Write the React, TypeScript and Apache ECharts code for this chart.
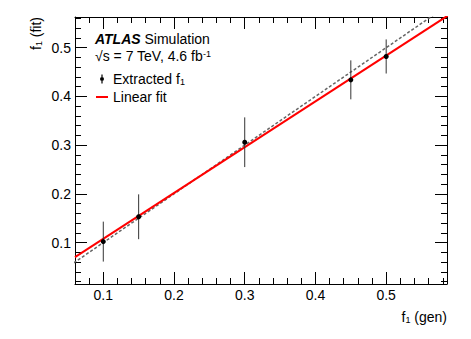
import React, { useEffect, useRef } from 'react';
import * as echarts from 'echarts';

const genValues = [0.1, 0.15, 0.3, 0.45, 0.5];
const fitValues = [0.102, 0.153, 0.306, 0.434, 0.482];
const fitErrors = [0.041, 0.046, 0.051, 0.040, 0.035];
const linearFitX = [0.06, 0.6];
const linearFitY = [0.070, 0.578];
const diagonalXY = [0.0, 0.6];
const xRange = [0.06, 0.586];
const yRange = [0.015, 0.563];
const xMajorTicks = [0.1, 0.2, 0.3, 0.4, 0.5];
const yMajorTicks = [0.1, 0.2, 0.3, 0.4, 0.5];
const minorStep = 0.02;

const FONT = 'Liberation Sans, Arial, Helvetica, sans-serif';

function minorTicks(range: number[], majors: number[]) {
  const out: number[] = [];
  const start = Math.ceil(range[0] / minorStep - 1e-9);
  const end = Math.floor(range[1] / minorStep + 1e-9);
  for (let i = start; i <= end; i++) {
    const v = +(i * minorStep).toFixed(4);
    if (!majors.some((m) => Math.abs(m - v) < 1e-6)) out.push(v);
  }
  return out;
}

function makeAxis(
  position: string,
  range: number[],
  ticks: number[],
  len: number,
  showLine: boolean,
  showLabel: boolean
) {
  return {
    type: 'value',
    position,
    min: range[0],
    max: range[1],
    axisLine: { show: showLine, onZero: false, lineStyle: { color: '#000', width: 1 } },
    axisTick: {
      show: true,
      inside: true,
      length: len,
      customValues: ticks,
      lineStyle: { color: '#000', width: 1 },
    },
    axisLabel: showLabel
      ? {
          show: true,
          customValues: ticks,
          formatter: (v: number) => v.toFixed(1),
          fontSize: 14,
          fontFamily: FONT,
          color: '#000',
          margin: 4,
        }
      : { show: false },
    splitLine: { show: false },
    minorTick: { show: false },
  };
}

export default function App() {
  const ref = useRef<HTMLDivElement>(null);
  useEffect(() => {
    if (!ref.current) return;
    const chart = echarts.init(ref.current, null, { renderer: 'svg' });
    const xMinor = minorTicks(xRange, xMajorTicks);
    const yMinor = minorTicks(yRange, yMajorTicks);

    const rich = {
      n: { fontSize: 14, fontFamily: FONT, color: '#000' },
      s: { fontSize: 9, fontFamily: FONT, color: '#000', verticalAlign: 'bottom' },
      p: { fontSize: 9, fontFamily: FONT, color: '#000', verticalAlign: 'top' },
      b: { fontSize: 14, fontFamily: FONT, color: '#000', fontWeight: 'bold', fontStyle: 'italic' },
    };

    chart.setOption({
      animation: false,
      backgroundColor: '#fff',
      grid: { left: 75, top: 17, right: 24, bottom: 55, containLabel: false, outerBoundsMode: 'none' },
      xAxis: [
        makeAxis('bottom', xRange, xMajorTicks, 12, true, true),
        makeAxis('bottom', xRange, xMinor, 6, false, false),
        makeAxis('top', xRange, xMajorTicks, 12, true, false),
        makeAxis('top', xRange, xMinor, 6, false, false),
      ],
      yAxis: [
        makeAxis('left', yRange, yMajorTicks, 12, true, true),
        makeAxis('left', yRange, yMinor, 6, false, false),
        makeAxis('right', yRange, yMajorTicks, 12, true, false),
        makeAxis('right', yRange, yMinor, 6, false, false),
      ],
      legend: {
        orient: 'vertical',
        left: 96,
        top: 72,
        itemWidth: 12,
        itemHeight: 9,
        itemGap: 4,
        padding: 0,
        textStyle: { fontSize: 14, fontFamily: FONT, color: '#000', rich },
        formatter: (name: string) =>
          name === 'Extracted f1' ? '{n|Extracted f}{s|1}' : '{n|' + name + '}',
        data: [
          {
            name: 'Extracted f1',
            icon:
              'path://M3.4,0h1.2v2.5h-1.2zM3.4,6.5h1.2v2.5h-1.2zM2,4.5a2,2 0 1,0 4,0a2,2 0 1,0 -4,0z',
            itemStyle: { color: '#000', opacity: 1 },
          },
          {
            name: 'Linear fit',
            icon: 'path://M0,0h12v2h-12z',
            itemStyle: { color: '#ff0000' },
          },
        ],
      },
      graphic: [
        {
          type: 'text',
          x: 95,
          y: 39,
          style: {
            text: '{b|ATLAS} {n|Simulation}',
            rich,
            fontSize: 14,
            fontFamily: FONT,
            fill: '#000',
            align: 'left',
            verticalAlign: 'middle',
          },
        },
        {
          type: 'text',
          x: 95,
          y: 56,
          style: {
            text: '{n|√s = 7 TeV, 4.6 fb}{p|-1}',
            rich,
            fontSize: 14,
            fontFamily: FONT,
            fill: '#000',
            align: 'left',
            verticalAlign: 'middle',
          },
        },
        {
          type: 'text',
          x: 447,
          y: 317,
          style: {
            text: '{n|f}{s|1}{n| (gen)}',
            rich,
            fontSize: 14,
            fontFamily: FONT,
            fill: '#000',
            align: 'right',
            verticalAlign: 'middle',
          },
        },
        {
          type: 'text',
          x: 36,
          y: 17,
          rotation: Math.PI / 2,
          style: {
            text: '{n|f}{s|1}{n| (fit)}',
            rich,
            fontSize: 14,
            fontFamily: FONT,
            fill: '#000',
            align: 'right',
            verticalAlign: 'middle',
          },
        },
      ],
      series: [
        {
          name: 'y = x',
          type: 'line',
          data: diagonalXY.map((v) => [v, v]),
          symbol: 'none',
          clip: true,
          lineStyle: { color: '#666', width: 1.5, type: [3, 2] },
          z: 2,
        },
        {
          name: 'Linear fit',
          type: 'line',
          data: linearFitX.map((x, i) => [x, linearFitY[i]]),
          symbol: 'none',
          showSymbol: false,
          clip: true,
          color: '#ff0000',
          lineStyle: { color: '#ff0000', width: 2 },
          z: 3,
        },
        {
          name: 'errors',
          type: 'custom',
          data: genValues.map((x, i) => [x, fitValues[i] - fitErrors[i], fitValues[i] + fitErrors[i]]),
          encode: { x: 0, y: [1, 2] },
          renderItem: (params: any, api: any) => {
            const x = api.value(0);
            const p1 = api.coord([x, api.value(1)]);
            const p2 = api.coord([x, api.value(2)]);
            return {
              type: 'line',
              shape: { x1: p1[0], y1: p1[1], x2: p2[0], y2: p2[1] },
              style: { stroke: '#333', lineWidth: 1 },
            };
          },
          z: 4,
        },
        {
          name: 'Extracted f1',
          type: 'scatter',
          data: genValues.map((x, i) => [x, fitValues[i]]),
          symbol: 'circle',
          symbolSize: 5,
          color: '#000',
          itemStyle: { color: '#000', opacity: 1 },
          z: 5,
        },
      ],
    });
    return () => chart.dispose();
  }, []);
  return (
    <div
      ref={ref}
      style={{ position: 'absolute', left: 0, top: 0, width: 471, height: 339, background: '#fff' }}
    />
  );
}
